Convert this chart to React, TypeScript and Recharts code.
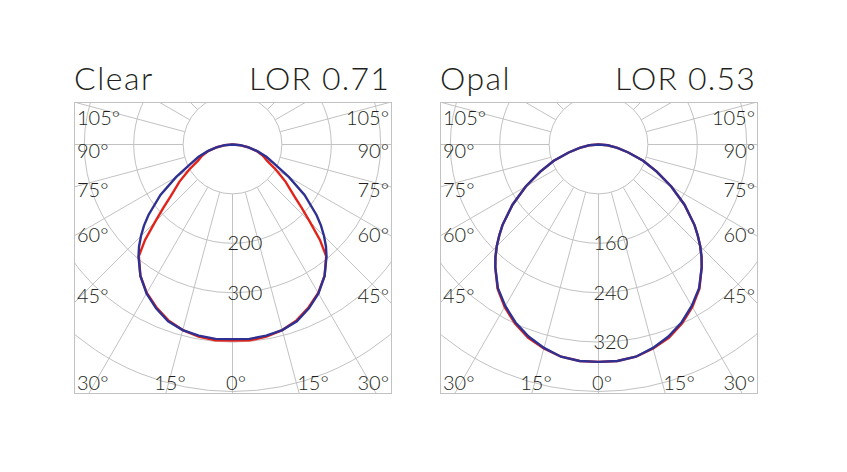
import React from 'react';
import { RadarChart, Radar, PolarGrid, PolarAngleAxis, PolarRadiusAxis } from 'recharts';

// gamma angle from nadir (deg), one half of each symmetric curve
const gammaAngles = [0, 5, 10, 15, 20, 25, 30, 35, 40, 42.5, 45, 47.5, 50, 55, 60, 65, 70, 75, 80, 85, 90];

// cd/klm
const clearRed = [397, 398, 395, 389, 379, 364, 347, 325, 295, 262, 222, 190, 164, 131, 101, 77, 65, 50, 32, 15, 0];
const clearBlue = [394, 395, 393, 389, 381, 366, 348, 325, 296, 280, 262, 243, 222, 178, 132, 95, 73, 52, 33, 16, 0];
const opalRed = [352, 352, 349, 342, 333, 320, 304, 285, 260, 247, 233, 218, 203, 170, 136, 104, 77, 50, 31, 15, 0];
const opalBlue = [352, 352, 349, 341, 331, 318, 302, 284, 260, 247, 233, 218, 203, 170, 136, 104, 77, 50, 31, 15, 0];

const clearRingLabels = [200, 300];
const opalRingLabels = [160, 240, 320];
const sideLabels = ['105°', '90°', '75°', '60°', '45°'];
const bottomLabels = ['30°', '15°', '0°', '15°', '30°'];

const RED = '#e2231a';
const BLUE = '#2e3192';
const GRID = '#c2c2c2';
const INK = '#231f20';
const FONT = 'Lato, sans-serif';

const buildRows = (red: number[], blue: number[]) => {
  const rows: { angle: number; red: number; blue: number }[] = [];
  for (let i = gammaAngles.length - 1; i > 0; i--) {
    rows.push({ angle: -gammaAngles[i], red: red[i], blue: blue[i] });
  }
  for (let i = 0; i < gammaAngles.length; i++) {
    rows.push({ angle: gammaAngles[i], red: red[i], blue: blue[i] });
  }
  return rows;
};

const clearData = buildRows(clearRed, clearBlue);
const opalData = buildRows(opalRed, opalBlue);

const W = 318;
const H = 292;
const RING = 49.4;

const makeTick = (labels: number[]) => (props: any) => {
  const { x, y, payload } = props;
  if (!labels.includes(payload.value)) return <g />;
  return (
    <text x={x - 5} y={y + 7} fontSize={20} fontFamily={FONT} fontWeight={300} fill={INK}>
      {payload.value}
    </text>
  );
};

const Panel = ({ left, data, step, ringLabels }: { left: number; data: any[]; step: number; ringLabels: number[] }) => (
  <>
    <div style={{ position: 'absolute', left, top: 102, width: W, height: H, overflow: 'hidden' }}>
      <RadarChart
        width={W}
        height={H}
        data={data}
        cx={158.5}
        cy={42.5}
        innerRadius={RING}
        outerRadius={RING * 8}
        startAngle={90}
        endAngle={-270}
        margin={{ top: 0, right: 0, bottom: 0, left: 0 }}
      >
        <PolarGrid gridType="circle" stroke={GRID} strokeWidth={1} />
        <PolarAngleAxis type="number" dataKey="angle" domain={[-180, 180]} tickCount={25} tick={false} axisLine={false} />
        <PolarRadiusAxis
          type="number"
          angle={-90}
          domain={[step, step * 8]}
          tickCount={8}
          allowDataOverflow
          axisLine={false}
          tick={makeTick(ringLabels)}
        />
        <Radar dataKey="red" stroke={RED} strokeWidth={2.4} fill="none" fillOpacity={0} dot={false} isAnimationActive={false} />
        <Radar dataKey="blue" stroke={BLUE} strokeWidth={2.4} fill="none" fillOpacity={0} dot={false} isAnimationActive={false} />
      </RadarChart>
    </div>
    <div
      style={{
        position: 'absolute',
        left,
        top: 102,
        width: W,
        height: H,
        boxSizing: 'border-box',
        border: `1px solid ${GRID}`,
      }}
    />
  </>
);

const sideY = [125, 158, 196.5, 241.5, 303];
const bottomX = [77, 170, 236, 313, 389];
const bottomAnchor = ['start', 'middle', 'middle', 'middle', 'end'];

const Labels = ({ dx, title, lor }: { dx: number; title: string; lor: string }) => (
  <g fontFamily={FONT} fontWeight={300} fill={INK}>
    <text x={74 + dx} y={90} fontSize={32} letterSpacing={1.5}>{title}</text>
    <text x={390 + dx} y={90} fontSize={32} letterSpacing={1.2} textAnchor="end">{lor}</text>
    {sideLabels.map((s, i) => (
      <React.Fragment key={s}>
        <text x={77 + dx} y={sideY[i]} fontSize={20}>{s}</text>
        <text x={389 + dx} y={sideY[i]} fontSize={20} textAnchor="end">{s}</text>
      </React.Fragment>
    ))}
    {bottomLabels.map((s, i) => (
      <text key={i} x={bottomX[i] + dx} y={390} fontSize={20} textAnchor={bottomAnchor[i] as any}>{s}</text>
    ))}
  </g>
);

export default function App() {
  return (
    <div style={{ position: 'relative', width: 847, height: 472, margin: -8, background: '#fff' }}>
      <Panel left={74} data={clearData} step={100} ringLabels={clearRingLabels} />
      <Panel left={440} data={opalData} step={80} ringLabels={opalRingLabels} />
      <svg width={847} height={472} style={{ position: 'absolute', left: 0, top: 0, pointerEvents: 'none' }}>
        <Labels dx={0} title="Clear" lor="LOR 0.71" />
        <Labels dx={366} title="Opal" lor="LOR 0.53" />
      </svg>
    </div>
  );
}
